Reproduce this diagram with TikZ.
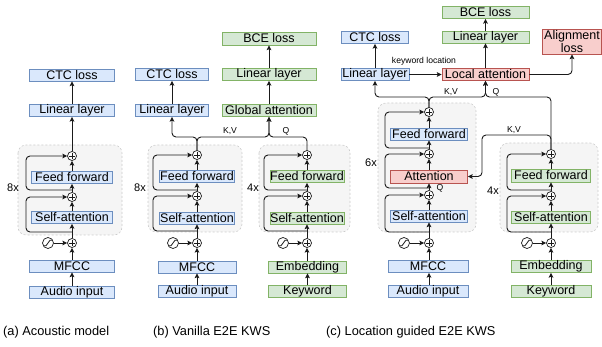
\documentclass[tikz,border=0pt]{standalone}
\usepackage{fontspec}
\setmainfont{Liberation Sans}
\usetikzlibrary{arrows.meta,calc}
\definecolor{bfill}{HTML}{DAE8FC}
\definecolor{bdraw}{HTML}{6C8EBF}
\definecolor{gfill}{HTML}{D5E8D4}
\definecolor{gdraw}{HTML}{82B366}
\definecolor{rfill}{HTML}{F8CECC}
\definecolor{rdraw}{HTML}{B85450}
\definecolor{grpfill}{HTML}{F5F5F5}
\definecolor{grpdraw}{HTML}{CCCCCC}
\definecolor{linec}{HTML}{1A1A1A}
\begin{document}
\begin{tikzpicture}[x=1pt,y=-1pt,
  box/.style={draw, inner sep=0pt, minimum height=12pt, line width=0.8pt,
    font=\fontsize{12.5pt}{14pt}\selectfont},
  bb/.style={box, fill=bfill, draw=bdraw},
  gb/.style={box, fill=gfill, draw=gdraw},
  rb/.style={box, fill=rfill, draw=rdraw},
  grp/.style={fill=grpfill, draw=grpdraw, dash pattern=on 2pt off 2pt, line width=0.6pt, rounded corners=8pt},
  pl/.style={circle, draw=linec, fill=white, line width=0.7pt, minimum size=9pt, inner sep=0pt,
    path picture={\draw[line width=0.6pt]
      ([xshift=-2.8pt]path picture bounding box.center) -- ([xshift=2.8pt]path picture bounding box.center)
      ([yshift=-2.8pt]path picture bounding box.center) -- ([yshift=2.8pt]path picture bounding box.center);}},
  sn/.style={circle, draw=linec, fill=white, line width=0.7pt, minimum size=11pt, inner sep=0pt,
    path picture={\draw[line width=0.8pt]
      ([xshift=-5pt,yshift=-3pt]path picture bounding box.center) .. controls +(3pt,0pt) and +(-1.5pt,-3pt) .. (path picture bounding box.center) .. controls +(1.5pt,3pt) and +(-3pt,0pt) .. ([xshift=5pt,yshift=3pt]path picture bounding box.center);}},
  arr/.style={draw=linec, line width=0.9pt, -{Stealth[length=4.8pt,width=4.8pt,inset=1pt]}},
  rc/.style={rounded corners=4pt},
  lab/.style={inner sep=0pt, font=\fontsize{8.6pt}{10pt}\selectfont},
  mul/.style={inner sep=0pt, font=\fontsize{11pt}{12pt}\selectfont},
  captxt/.style={inner sep=0pt, anchor=west, font=\fontsize{12.8pt}{14pt}\selectfont}
]
\useasboundingbox (0,0) rectangle (602,347);

% ---------------- groups ----------------
\draw[grp] (18,145) rectangle (122,235);
\draw[grp] (148,145) rectangle (242,232);
\draw[grp] (259,145) rectangle (350,232);
\draw[grp] (378,103) rectangle (476,232);
\draw[grp] (500,143) rectangle (598,232);

% ---------------- panel (a) ----------------
\node[bb, minimum width=85pt] (aCTC) at (72,75) {CTC loss};
\node[bb, minimum width=85pt] (aLin) at (72,110.5) {Linear layer};
\node[pl] (aP1) at (72,156) {};
\node[bb, minimum width=81pt] (aFF) at (72,177.5) {Feed forward};
\node[pl] (aP2) at (72,197) {};
\node[bb, minimum width=81pt] (aSA) at (72,217.5) {Self-attention};
\node[pl] (aP3) at (72,243) {};
\node[sn] (aSin) at (48,243) {};
\node[bb, minimum width=85pt] (aMF) at (72,266) {MFCC};
\node[bb, minimum width=85pt] (aAud) at (72,292.5) {Audio input};
\node[mul] (a8x) at (13,188) {8x};
\coordinate (aj1) at (72,190);
\coordinate (aj2) at (72,232);

\draw[arr] (aAud.north) -- (aMF.south);
\draw[arr] (aMF.north) -- (aP3.south);
\draw[arr] (aSin.east) -- (aP3.west);
\draw[arr] (aP3.north) -- (aSA.south);
\draw[arr] (aSA.north) -- (aP2.south);
\draw[arr] (aP2.north) -- (aFF.south);
\draw[arr] (aFF.north) -- (aP1.south);
\draw[arr] (aP1.north) -- (aLin.south);
\draw[arr] (aLin.north) -- (aCTC.south);
\draw[arr,rc] (aj1) -- ++(-46,0) |- (aP1.west);
\draw[arr,rc] (aj2) -- ++(-46,0) |- (aP2.west);

% ---------------- panel (b) ----------------
\node[gb, minimum width=94pt, minimum height=13pt] (bBCE) at (269,38.5) {BCE loss};
\node[gb, minimum width=94pt] (bLinG) at (269,74.5) {Linear layer};
\node[gb, minimum width=94pt] (bGA) at (269,110.5) {Global attention};
\node[bb, minimum width=73pt] (bCTC) at (172,74.5) {CTC loss};
\node[bb, minimum width=73pt] (bLinB) at (172,110.5) {Linear layer};

\node[pl] (bP1) at (197,155) {};
\node[bb, minimum width=75pt] (bFF) at (197,176.5) {Feed forward};
\node[pl] (bP2) at (197,196) {};
\node[bb, minimum width=75pt] (bSA) at (197,218) {Self-attention};
\node[pl] (bP3) at (197,243) {};
\node[sn] (bSin) at (173,243) {};
\node[bb, minimum width=78pt] (bMF) at (197,267) {MFCC};
\node[bb, minimum width=78pt] (bAud) at (197,291.5) {Audio input};
\node[mul] (b8x) at (140,188) {8x};
\coordinate (bj1) at (197,190);
\coordinate (bj2) at (197,231);

\node[pl] (bqP1) at (307,155) {};
\node[gb, minimum width=74pt] (bqFF) at (307,176.5) {Feed forward};
\node[pl] (bqP2) at (307,196) {};
\node[gb, minimum width=74pt] (bqSA) at (307,218) {Self-attention};
\node[pl] (bqP3) at (307,243) {};
\node[sn] (bqSin) at (283,243) {};
\node[gb, minimum width=78pt] (bEmb) at (307.5,267) {Embedding};
\node[gb, minimum width=78pt] (bKw) at (307.5,291.5) {Keyword};
\node[mul] (b4x) at (253,188) {4x};
\coordinate (bqj1) at (307,190);
\coordinate (bqj2) at (307,231);

\draw[arr] (bAud.north) -- (bMF.south);
\draw[arr] (bMF.north) -- (bP3.south);
\draw[arr] (bSin.east) -- (bP3.west);
\draw[arr] (bP3.north) -- (bSA.south);
\draw[arr] (bSA.north) -- (bP2.south);
\draw[arr] (bP2.north) -- (bFF.south);
\draw[arr] (bFF.north) -- (bP1.south);
\draw[arr,rc] (bj1) -- ++(-44,0) |- (bP1.west);
\draw[arr,rc] (bj2) -- ++(-44,0) |- (bP2.west);

\draw[arr] (bKw.north) -- (bEmb.south);
\draw[arr] (bEmb.north -| bqP3) -- (bqP3.south);
\draw[arr] (bqSin.east) -- (bqP3.west);
\draw[arr] (bqP3.north) -- (bqSA.south);
\draw[arr] (bqSA.north) -- (bqP2.south);
\draw[arr] (bqP2.north) -- (bqFF.south);
\draw[arr] (bqFF.north) -- (bqP1.south);
\draw[arr,rc] (bqj1) -- ++(-43,0) |- (bqP1.west);
\draw[arr,rc] (bqj2) -- ++(-43,0) |- (bqP2.west);

\coordinate (bkv) at (197,137);
\draw[arr,rc] (bP1.north) |- (bLinB.south |- bkv) -- (bLinB.south);
\draw[arr,rc] (bP1.north) |- (bGA.south |- bkv) -- (bGA.south);
\draw[arr,rc] (bqP1.north) |- (bGA.south |- bkv) -- (bGA.south);
\node[lab] (bKV) at (230,131) {K,V};
\node[lab] (bQ) at (286,131) {Q};
\draw[arr] (bGA.north) -- (bLinG.south);
\draw[arr] (bLinG.north) -- (bBCE.south);
\draw[arr] (bLinB.north) -- (bCTC.south);

% ---------------- panel (c) ----------------
\node[gb, minimum width=87pt] (cBCE) at (485.5,12.5) {BCE loss};
\node[gb, minimum width=87pt] (cLinG) at (485.5,37) {Linear layer};
\node[rb, minimum width=59pt, minimum height=25pt, align=center,
  font=\fontsize{12.5pt}{11.5pt}\selectfont] (cAlign) at (572,41.5) {Alignment\\loss};
\node[bb, minimum width=67pt] (cCTC) at (375,37.5) {CTC loss};
\node[bb, minimum width=68pt] (cLinB) at (375,74.5) {Linear layer};
\node[rb, minimum width=87pt] (cLA) at (485.5,74.5) {Local attention};
\node[lab] (ckwl) at (424,61) {keyword location};

\node[pl] (cP1) at (429,112) {};
\node[bb, minimum width=77pt] (cFF) at (429,134) {Feed forward};
\node[pl] (cP2) at (429,154) {};
\node[rb, minimum width=77pt, minimum height=13pt] (cAtt) at (429,176.5) {Attention};
\node[pl] (cP3) at (429,195) {};
\node[bb, minimum width=77pt] (cSA) at (429,216) {Self-attention};
\node[pl] (cP4) at (429,243) {};
\node[sn] (cSin) at (404,243) {};
\node[bb, minimum width=80pt] (cMF) at (428,266.5) {MFCC};
\node[bb, minimum width=80pt] (cAud) at (428,291.5) {Audio input};
\node[mul] (c6x) at (371,163) {6x};
\node[lab] (cQa) at (440,188) {Q};
\coordinate (cj1) at (429,148);
\coordinate (cj2) at (429,188);
\coordinate (cj3) at (429,232);

\node[pl] (crP1) at (551,154) {};
\node[gb, minimum width=79pt, minimum height=13pt] (crFF) at (551,175.5) {Feed forward};
\node[pl] (crP2) at (551,196) {};
\node[gb, minimum width=79pt] (crSA) at (551,217) {Self-attention};
\node[pl] (crP3) at (551,243) {};
\node[sn] (crSin) at (527,243) {};
\node[gb, minimum width=80pt] (cEmb) at (551,266.5) {Embedding};
\node[gb, minimum width=80pt] (cKw) at (551,291.5) {Keyword};
\node[mul] (c4x) at (493,191) {4x};
\coordinate (crj1) at (551,190);
\coordinate (crj2) at (551,232);

\draw[arr] (cAud.north -| cP4) -- (cP4.south |- cMF.south);
\draw[arr] (cMF.north -| cP4) -- (cP4.south);
\draw[arr] (cSin.east) -- (cP4.west);
\draw[arr] (cP4.north) -- (cSA.south);
\draw[arr] (cSA.north) -- (cP3.south);
\draw[arr] (cP3.north) -- (cAtt.south);
\draw[arr] (cAtt.north) -- (cP2.south);
\draw[arr] (cP2.north) -- (cFF.south);
\draw[arr] (cFF.north) -- (cP1.south);
\draw[arr,rc] (cj1) -- ++(-44,0) |- (cP1.west);
\draw[arr,rc] (cj2) -- ++(-44,0) |- (cP2.west);
\draw[arr,rc] (cj3) -- ++(-44,0) |- (cP3.west);

\draw[arr] (cKw.north) -- (cEmb.south);
\draw[arr] (cEmb.north) -- (crP3.south);
\draw[arr] (crSin.east) -- (crP3.west);
\draw[arr] (crP3.north) -- (crSA.south);
\draw[arr] (crSA.north) -- (crP2.south);
\draw[arr] (crP2.north) -- (crFF.south);
\draw[arr] (crFF.north) -- (crP1.south);
\draw[arr,rc] (crj1) -- ++(-44,0) |- (crP1.west);
\draw[arr,rc] (crj2) -- ++(-44,0) |- (crP2.west);

\coordinate (ckv) at (429,97);
\coordinate (ckv2) at (482,135);
\draw[arr,rc] (cP1.north) |- (cLinB.south |- ckv) -- (cLinB.south);
\draw[arr,rc] (cP1.north) |- (cLA.south |- ckv) -- (cLA.south);
\draw[arr,rc] (crP1.north) |- (cLA.south |- ckv) -- (cLA.south);
\draw[arr,rc] (crP1.north) |- (ckv2) |- (cAtt.east);
\node[lab] (cKV1) at (451,92) {K,V};
\node[lab] (cQ1) at (496,92) {Q};
\node[lab] (cKV2) at (514,130) {K,V};

\draw[arr] (cLinB.east) -- (cLA.west);
\draw[arr,rc] (cLA.east) -| (cAlign.south);
\draw[arr] (cLA.north) -- (cLinG.south);
\draw[arr] (cLinG.north) -- (cBCE.south);
\draw[arr] (cLinB.north) -- (cCTC.south);

% ---------------- captions ----------------
\node[captxt] (capa) at (3,332) {(a) Acoustic model};
\node[captxt] (capb) at (153,332) {(b) Vanilla E2E KWS};
\node[captxt] (capc) at (326,332) {(c) Location guided E2E KWS};
\end{tikzpicture}
\end{document}
